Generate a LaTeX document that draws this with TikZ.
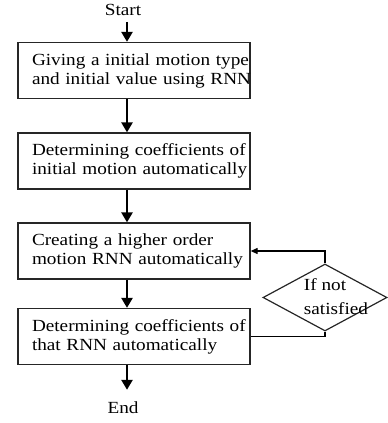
\documentclass[tikz,border=0pt]{standalone}
\usepackage{fontspec}
\setmainfont{Liberation Serif}[FakeStretch=1.13]
\usetikzlibrary{arrows.meta,shapes.geometric}
\begin{document}
\begin{tikzpicture}[x=1pt,y=-1pt,
  box/.style={draw=black!85, line width=1.3pt, minimum width=232pt, minimum height=56pt,
    inner xsep=0pt, text width=204pt, align=left, font=\fontsize{17}{19}\selectfont},
  term/.style={inner sep=0pt, font=\fontsize{17}{19}\selectfont},
  arr/.style={line width=2.6pt, -{Triangle[length=10pt,width=11pt]}},
  con/.style={line width=1.2pt, -{Triangle[length=7pt,width=6pt]}},
  plainline/.style={line width=1.2pt},
  decision/.style={draw=black!85, diamond, line width=1.2pt, minimum width=124pt, minimum height=67pt, inner sep=0pt},
  dtext/.style={align=left, inner sep=0pt, font=\fontsize{17}{24}\selectfont}]
\useasboundingbox (0,0) rectangle (388,423);
\node[term] (start) at (123,10) {Start};
\node[box] (b1) at (134,70.5) {\mbox{Giving a initial motion type}\\\mbox{and initial value using RNN}};
\node[box] (b2) at (134,161) {\mbox{Determining coefficients of}\\\mbox{initial motion automatically}};
\node[box] (b3) at (134,251) {\mbox{Creating a higher order}\\\mbox{motion RNN automatically}};
\node[box] (b4) at (134,336.5) {\mbox{Determining coefficients of}\\\mbox{that RNN automatically}};
\node[term] (end) at (123,408) {End};
\node[decision] (dec) at (325,297.5) {};
\node[dtext] (dlab) at (336,297) {If not\\satisfied};
\coordinate (ax) at (127,0);
\draw[arr] (start.south -| ax) ++(0,6) -- (b1.north -| ax);
\draw[arr] (b1.south -| ax) -- (b2.north -| ax);
\draw[arr] (b2.south -| ax) -- (b3.north -| ax);
\draw[arr] (b3.south -| ax) -- (b4.north -| ax);
\draw[arr, shorten >=12pt] (b4.south -| ax) -- (end.north -| ax);
\draw[con] (dec.north) |- (b3.east);
\draw[plainline] (dec.south) |- (b4.east);
\end{tikzpicture}
\end{document}
